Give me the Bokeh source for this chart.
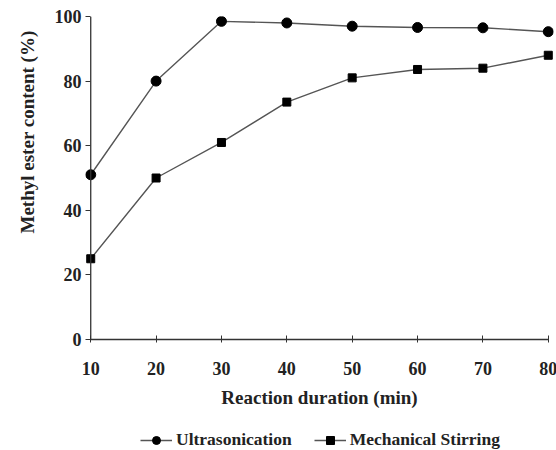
from bokeh.plotting import figure
from bokeh.layouts import column
from bokeh.models import Range1d, Legend, LegendItem, FixedTicker, Title, Span
from bokeh.embed import file_html
from bokeh.resources import INLINE

duration = [10, 20, 30, 40, 50, 60, 70, 80]
ultrasonication = [51, 80, 98.5, 98, 97, 96.6, 96.5, 95.3]
mechanical = [25, 50, 61, 73.5, 81, 83.6, 84, 88]
x_ticks = [10, 20, 30, 40, 50, 60, 70, 80]
y_ticks = [0, 20, 40, 60, 80, 100]
series_names = ["Ultrasonication", "Mechanical Stirring"]

FONT = "Liberation Serif"
TXT = "#222222"
AX = "#333333"
LINE = "#555555"

p = figure(frame_width=468, frame_height=323, output_backend="svg", toolbar_location=None,
           x_range=Range1d(9.2, 80.8), y_range=Range1d(0, 100),
           min_border_left=84, min_border_right=4, min_border_top=16, min_border_bottom=81)
p.outline_line_color = None
p.grid.visible = False

p.add_layout(Span(location=10, dimension="height", line_color=AX, line_width=1.3))

p.line(duration, ultrasonication, line_color=LINE, line_width=1.4)
p.scatter(duration, ultrasonication, marker="circle", size=10, color="black")
p.line(duration, mechanical, line_color=LINE, line_width=1.4)
p.scatter(duration, mechanical, marker="square", size=8, color="black")

for ax in (p.xaxis[0], p.yaxis[0]):
    ax.axis_line_color = AX
    ax.axis_line_width = 1.3
    ax.major_tick_line_color = AX
    ax.minor_tick_line_color = None
    ax.major_label_text_font = FONT
    ax.major_label_text_font_style = "bold"
    ax.major_label_text_font_size = "18px"
    ax.major_label_text_color = TXT
    ax.axis_label_text_font = FONT
    ax.axis_label_text_font_style = "bold"
    ax.axis_label_text_font_size = "19px"
    ax.axis_label_text_color = TXT

p.xaxis.ticker = FixedTicker(ticks=x_ticks)
p.yaxis.ticker = FixedTicker(ticks=y_ticks)
p.xaxis.bounds = (10, 80)
p.yaxis.axis_line_color = None
p.xaxis.major_tick_in = 4
p.xaxis.major_tick_out = 3
p.yaxis.major_tick_in = 5
p.yaxis.major_tick_out = 0
p.xaxis.axis_label = "Reaction duration (min)"
p.xaxis.major_label_standoff = 19
p.xaxis.axis_label_standoff = 9
p.yaxis.major_label_standoff = 4

ytitle = Title(text="Methyl ester content (%)", align="left", offset=106,
               text_font=FONT, text_font_style="bold", text_font_size="19px",
               text_color=TXT, standoff=28)
p.add_layout(ytitle, "left")

# legend strip below the chart (its sample renderers lie outside its own view range)
lg = figure(frame_width=556, frame_height=30, output_backend="svg", toolbar_location=None,
            x_axis_type=None, y_axis_type=None, min_border=0,
            x_range=Range1d(-2, -1), y_range=Range1d(-2, -1))
lg.outline_line_color = None
lg.grid.visible = False
k1 = lg.line(duration, ultrasonication, line_color=LINE, line_width=1.4)
s1 = lg.scatter(duration, ultrasonication, marker="circle", size=6, color="black")
k2 = lg.line(duration, mechanical, line_color=LINE, line_width=1.4)
s2 = lg.scatter(duration, mechanical, marker="square", size=5, color="black")

legend = Legend(items=[LegendItem(label=series_names[0], renderers=[k1, s1]),
                       LegendItem(label=series_names[1], renderers=[k2, s2])],
                orientation="horizontal", location=(140, 0))
legend.border_line_color = None
legend.background_fill_alpha = 0
legend.label_text_font = FONT
legend.label_text_font_style = "bold"
legend.label_text_font_size = "17.5px"
legend.label_text_color = TXT
legend.glyph_width = 32
legend.label_standoff = 4
legend.spacing = 22
legend.padding = 0
legend.margin = 0
lg.add_layout(legend, "center")

layout = column(p, lg, spacing=0)
open("out.html", "w").write(file_html(layout, INLINE))
